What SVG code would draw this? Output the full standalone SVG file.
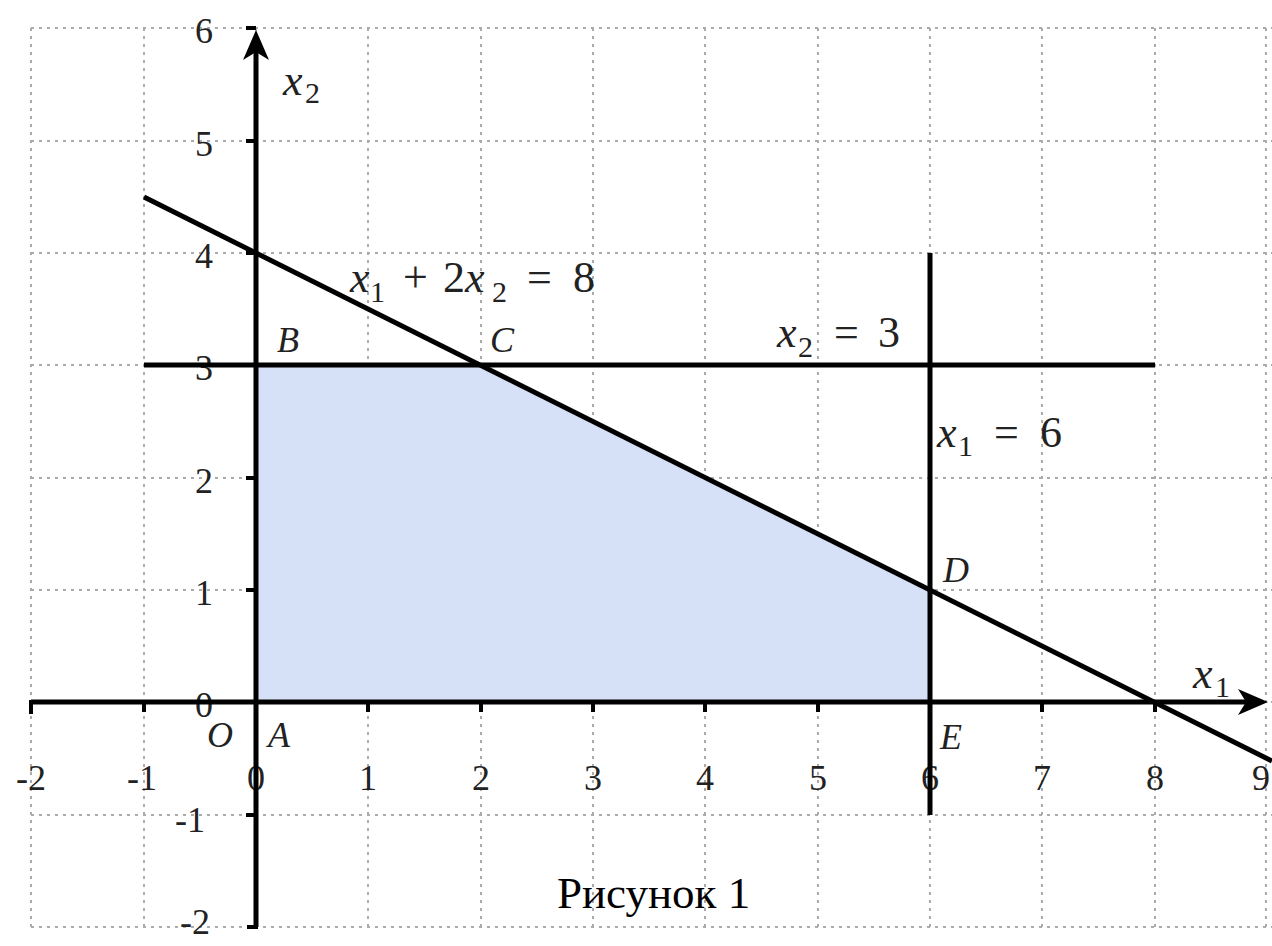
<svg xmlns="http://www.w3.org/2000/svg" width="1272" height="946" viewBox="0 0 1272 946">
<style>
.grid{stroke:#ababab;stroke-width:2;stroke-dasharray:3 5;fill:none}
.ax{stroke:#000;stroke-width:5;fill:none}
.ln{stroke:#000;stroke-width:5;fill:none;stroke-linecap:butt}
.tk{stroke:#000;stroke-width:4}
.num{font-family:"Liberation Serif",serif;font-size:36px;fill:#222}
.pt{font-family:"Liberation Serif",serif;font-style:italic;font-size:36px;fill:#222}
.m{font-family:"Liberation Serif",serif;font-size:44px;fill:#222}
.mi{font-family:"Liberation Serif",serif;font-style:italic;font-size:44px;fill:#222}
.sb{font-family:"Liberation Serif",serif;font-size:30px;fill:#222}
.cap{font-family:"Liberation Serif",serif;font-size:45px;fill:#000}
</style>
<rect width="1272" height="946" fill="#fff"/>
<g id="grid" class="grid">
<path d="M31 28V927M144 28V927M256 28V927M368 28V927M481 28V927M593 28V927M705 28V927M818 28V927M930 28V927M1042 28V927M1155 28V927M1266 28V927"/>
<path d="M31 28H1272M31 141H1272M31 253H1272M31 365H1272M31 478H1272M31 590H1272M31 702H1272M31 815H1272M31 927H1272"/>
</g>
<g id="region">
<polygon points="256,702 256,365 481,365 930,590 930,702" fill="#d6e1f7"/>
</g>
<g id="tick-labels">
<text class="num" text-anchor="middle" x="31" y="790">-2</text>
<text class="num" text-anchor="middle" x="142" y="790">-1</text>
<text class="num" text-anchor="middle" x="256" y="790">0</text>
<text class="num" text-anchor="middle" x="368" y="790">1</text>
<text class="num" text-anchor="middle" x="481" y="790">2</text>
<text class="num" text-anchor="middle" x="593" y="790">3</text>
<text class="num" text-anchor="middle" x="705" y="790">4</text>
<text class="num" text-anchor="middle" x="818" y="790">5</text>
<text class="num" text-anchor="middle" x="930" y="790">6</text>
<text class="num" text-anchor="middle" x="1042" y="790">7</text>
<text class="num" text-anchor="middle" x="1155" y="790">8</text>
<text class="num" text-anchor="end" x="1270" y="790">9</text>
<text class="num" text-anchor="end" x="213" y="43">6</text>
<text class="num" text-anchor="end" x="213" y="156">5</text>
<text class="num" text-anchor="end" x="213" y="268">4</text>
<text class="num" text-anchor="end" x="213" y="380">3</text>
<text class="num" text-anchor="end" x="213" y="493">2</text>
<text class="num" text-anchor="end" x="213" y="605">1</text>
<text class="num" text-anchor="end" x="213" y="717">0</text>
<text class="num" text-anchor="end" x="205" y="832">-1</text>
<text class="num" text-anchor="end" x="210" y="934">-2</text>
</g>
<g id="axes">
<path class="ax" d="M31 702H1250"/>
<path class="ax" d="M256 927V50"/>
<path class="tk" d="M247 927H258"/>
<path d="M1268 702L1238 689L1246 702L1238 715Z" fill="#000"/>
<path d="M256 30L243 60L256 52L269 60Z" fill="#000"/>
<path class="tk" d="M31 700V714M144 700V712M368 700V712M481 700V712M593 700V712M705 700V712M818 700V712M1042 700V712M1155 700V712"/>
<path class="tk" d="M246 28H256M246 141H256M246 253H256M246 365H256M246 478H256M246 590H256M246 815H256"/>
</g>
<g id="constraints">
<path class="ln" d="M144 197L1272 761"/>
<path class="ln" d="M144 365H1155"/>
<path class="ln" d="M930 253V815"/>
</g>
<g id="labels">
<text class="mi" x="283" y="95">x</text><text class="sb" x="305" y="103">2</text>
<text class="mi" x="1193" y="688">x</text><text class="sb" x="1215" y="697">1</text>
<text class="mi" x="350" y="292">x</text><text class="sb" x="370" y="302">1</text>
<text class="m" x="403" y="292">+</text><text class="m" x="443" y="292">2</text>
<text class="mi" x="465" y="292">x</text><text class="sb" x="492" y="302">2</text>
<text class="m" x="527" y="292">=</text><text class="m" x="573" y="292">8</text>
<text class="mi" x="777" y="347">x</text><text class="sb" x="798" y="357">2</text>
<text class="m" x="834" y="347">=</text><text class="m" x="878" y="347">3</text>
<text class="mi" x="937" y="447">x</text><text class="sb" x="958" y="456">1</text>
<text class="m" x="994" y="447">=</text><text class="m" x="1040" y="447">6</text>
<text class="pt" x="277" y="352">B</text>
<text class="pt" x="490" y="352">C</text>
<text class="pt" x="943" y="582">D</text>
<text class="pt" x="207" y="747">O</text>
<text class="pt" x="268" y="747">A</text>
<text class="pt" x="940" y="749">E</text>
<text class="cap" x="557" y="908">Рисунок 1</text>
</g>
</svg>
